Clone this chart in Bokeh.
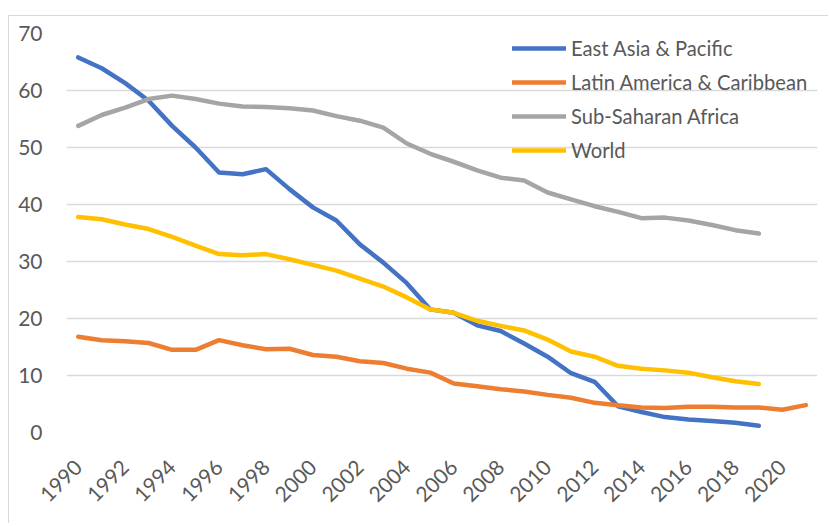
import numpy as np
from bokeh.plotting import figure
from bokeh.models import Legend, LegendItem, FixedTicker
from bokeh.embed import file_html
from bokeh.resources import INLINE

years_eap = list(range(1990, 2020))
east_asia = [65.8, 63.9, 61.3, 58.2, 53.8, 50.0, 45.6, 45.3, 46.2, 42.7,
             39.5, 37.2, 33.0, 29.8, 26.2, 21.6, 21.0, 18.8, 17.8, 15.6,
             13.3, 10.4, 8.9, 4.6, 3.6, 2.7, 2.3, 2.0, 1.7, 1.2]

years_lac = list(range(1990, 2022))
latin_america = [16.8, 16.2, 16.0, 15.7, 14.5, 14.5, 16.2, 15.3, 14.6, 14.7,
                 13.6, 13.3, 12.5, 12.2, 11.2, 10.5, 8.6, 8.1, 7.6, 7.2,
                 6.6, 6.1, 5.2, 4.8, 4.4, 4.3, 4.5, 4.5, 4.4, 4.4,
                 4.0, 4.8]

years_ssa = list(range(1990, 2020))
sub_saharan = [53.8, 55.7, 57.0, 58.5, 59.1, 58.5, 57.7, 57.2, 57.1, 56.9,
               56.5, 55.5, 54.7, 53.5, 50.7, 48.9, 47.5, 46.0, 44.7, 44.2,
               42.1, 40.9, 39.7, 38.7, 37.6, 37.7, 37.2, 36.4, 35.5, 34.9]

years_world = list(range(1990, 2020))
world = [37.8, 37.4, 36.5, 35.7, 34.3, 32.8, 31.3, 31.1, 31.3, 30.4,
         29.4, 28.4, 27.0, 25.6, 23.7, 21.6, 21.0, 19.6, 18.7, 17.9,
         16.3, 14.2, 13.3, 11.7, 11.2, 10.9, 10.5, 9.7, 9.0, 8.5]

x_ticks = list(range(1990, 2021, 2))
y_ticks = [0, 10, 20, 30, 40, 50, 60, 70]

series_names = ["East Asia & Pacific", "Latin America & Caribbean",
                "Sub-Saharan Africa", "World"]
colors = ["#4472C4", "#ED7D31", "#A5A5A5", "#FFC000"]

FONT = "Lato"
TXT = "#595959"

p = figure(width=820, height=508, output_backend="svg", toolbar_location=None,
           x_range=(1989.5, 2021.5), y_range=(0, 70),
           min_border_left=57, min_border_right=12, min_border_top=17,
           min_border_bottom=92)
p.styles = {"margin-top": "15px", "margin-left": "8px",
            "border-left": "1px solid #d9d9d9",
            "border-top": "1px solid #d9d9d9"}
p.outline_line_color = None
p.background_fill_color = "white"
p.border_fill_color = "white"

p.xgrid.grid_line_color = None
p.ygrid.grid_line_color = "#d9d9d9"
p.ygrid.grid_line_width = 1.5

p.xaxis.ticker = FixedTicker(ticks=x_ticks)
p.yaxis.ticker = FixedTicker(ticks=y_ticks)
for ax in (p.xaxis[0], p.yaxis[0]):
    ax.axis_line_color = None
    ax.major_tick_line_color = None
    ax.minor_tick_line_color = None
    ax.major_label_text_font = FONT
    ax.major_label_text_font_size = "21px"
    ax.major_label_text_color = TXT
p.yaxis.major_label_standoff = 18
p.xaxis.major_label_orientation = np.pi / 4
p.xaxis.major_label_standoff = 25

data = [(years_eap, east_asia), (years_lac, latin_america),
        (years_ssa, sub_saharan), (years_world, world)]
items = []
for (xs, ys), name, c in zip(data, series_names, colors):
    r = p.line(xs, ys, line_color=c, line_width=4.5, line_cap="round",
               line_join="round")
    items.append(LegendItem(label=name, renderers=[r]))

legend = Legend(items=items, location=(446, 265), orientation="vertical")
legend.background_fill_alpha = 0
legend.border_line_color = None
legend.padding = 0
legend.margin = 0
legend.spacing = 0
legend.label_height = 34
legend.glyph_height = 20
legend.glyph_width = 54
legend.label_standoff = 5
legend.label_text_font = FONT
legend.label_text_font_size = "20.2px"
legend.label_text_color = TXT
p.add_layout(legend, "center")

open("out.html", "w").write(file_html(p, INLINE))
